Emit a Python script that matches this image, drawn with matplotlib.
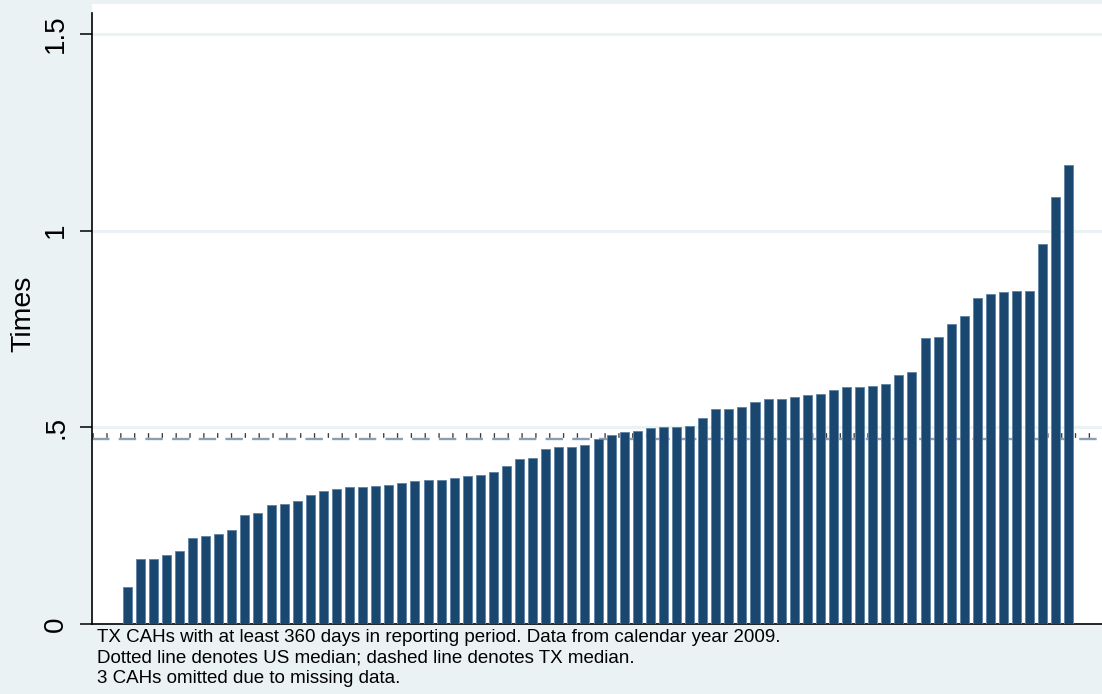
import numpy as np
import matplotlib
matplotlib.use("Agg")
import matplotlib.pyplot as plt

plt.rcParams['font.family'] = ['Liberation Sans', 'DejaVu Sans']

# Times ratio per TX CAH, sorted ascending
times = [
    0.093, 0.164, 0.166, 0.175, 0.186, 0.219, 0.224, 0.229, 0.239, 0.276,
    0.282, 0.302, 0.304, 0.313, 0.327, 0.338, 0.342, 0.347, 0.348, 0.352,
    0.353, 0.358, 0.363, 0.365, 0.366, 0.372, 0.376, 0.380, 0.386, 0.401,
    0.419, 0.421, 0.444, 0.449, 0.450, 0.454, 0.471, 0.481, 0.488, 0.491,
    0.498, 0.502, 0.502, 0.503, 0.523, 0.547, 0.547, 0.552, 0.564, 0.571,
    0.572, 0.577, 0.581, 0.584, 0.595, 0.602, 0.602, 0.604, 0.609, 0.632,
    0.640, 0.727, 0.730, 0.762, 0.784, 0.828, 0.838, 0.844, 0.847, 0.847,
    0.965, 1.085, 1.167,
]
us_median = 0.480
tx_median = 0.471

yticks = [0, 0.5, 1, 1.5]
yticklabels = ['0', '.5', '1', '1.5']

notes = ("TX CAHs with at least 360 days in reporting period. Data from calendar year 2009.\n"
         "Dotted line denotes US median; dashed line denotes TX median.\n"
         "3 CAHs omitted due to missing data.")

bg = '#EAF2F3'
navy = '#1A476F'

fig = plt.figure(figsize=(11.02, 6.94), dpi=100, facecolor=bg)
W, H = 1102, 694
ax = fig.add_axes([92 / W, (H - 624) / H, (W - 92) / W, (624 - 4) / H])
ax.set_facecolor('white')

x = np.arange(len(times))
ax.bar(x, times, width=0.69, color=navy, edgecolor='#5f82a3', linewidth=0.6, zorder=3)

# gridlines
for t in yticks[1:]:
    ax.axhline(t, color=bg, linewidth=2.2, zorder=1)

# US median as a dotted line (short vertical ticks)
ax.axhline(us_median, color='#3a3a3a', linewidth=3.4, linestyle=(0, (0.28, 2.65)),
           dash_capstyle='butt', zorder=2)
# TX median dashed
ax.axhline(tx_median, color='#8A9FB6', linewidth=1.7, linestyle=(0, (7.4, 3.9)),
           dash_capstyle='butt', zorder=2)

ax.set_xlim(-2.69, 74.53)
ax.set_ylim(0, 1.576)

for s in ['top', 'right']:
    ax.spines[s].set_visible(False)
ax.spines['left'].set_linewidth(1.2)
ax.spines['left'].set_bounds(0, 1.553)
ax.spines['bottom'].set_linewidth(1.2)

ax.set_xticks([])
ax.set_yticks(yticks)
ax.set_yticklabels(yticklabels, rotation=90, va='center', fontsize=20)
ax.tick_params(axis='y', direction='out', length=8.5, width=1.1, pad=8)
ax.set_ylabel('Times', fontsize=20.5, labelpad=5)

fig.text(97 / W, 1 - 629 / H, notes, ha='left', va='top', fontsize=13.5,
         linespacing=1.26)

fig.savefig('out.png', dpi=100, facecolor=bg)
